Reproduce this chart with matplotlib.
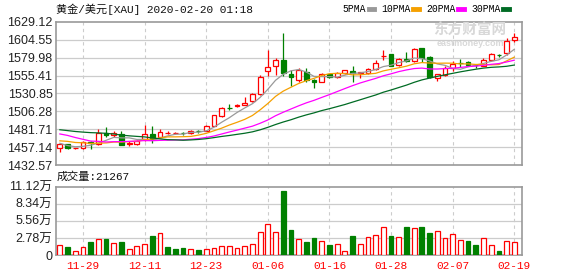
import numpy as np
import pandas as pd
import matplotlib
matplotlib.use("Agg")
import matplotlib.pyplot as plt
from matplotlib.lines import Line2D

# trading days shown on the chart
dates = ["11-26", "11-27", "11-28", "11-29", "12-02", "12-03", "12-04", "12-05", "12-06", "12-09",
         "12-10", "12-11", "12-12", "12-13", "12-16", "12-17", "12-18", "12-19", "12-20", "12-23",
         "12-24", "12-26", "12-27", "12-30", "12-31", "01-02", "01-03", "01-06", "01-07", "01-08",
         "01-09", "01-10", "01-13", "01-14", "01-15", "01-16", "01-17", "01-20", "01-21", "01-22",
         "01-23", "01-24", "01-27", "01-28", "01-29", "01-30", "01-31", "02-03", "02-04", "02-05",
         "02-06", "02-07", "02-10", "02-11", "02-12", "02-13", "02-14", "02-17", "02-18", "02-19"]

opens = [1455.5, 1461.0, 1455.4, 1455.5, 1464.5, 1461.5, 1476.0, 1474.0, 1475.2, 1461.0,
         1461.4, 1467.9, 1475.2, 1470.6, 1476.8, 1476.4, 1476.6, 1476.0, 1479.2, 1479.7,
         1486.0, 1500.3, 1511.2, 1514.2, 1515.5, 1521.0, 1530.2, 1562.3, 1568.6, 1576.9,
         1558.1, 1550.0, 1560.8, 1549.8, 1547.0, 1557.2, 1554.0, 1559.4, 1562.3, 1558.5,
         1559.5, 1564.0, 1582.5, 1584.5, 1569.5, 1578.5, 1575.5, 1593.8, 1580.6, 1552.6,
         1556.3, 1565.5, 1573.3, 1574.0, 1570.3, 1569.0, 1577.3, 1584.0, 1586.0, 1604.0]
highs = [1462.0, 1462.0, 1456.5, 1465.0, 1466.0, 1481.6, 1485.2, 1479.3, 1479.0, 1465.0,
         1467.0, 1487.1, 1486.6, 1482.0, 1479.0, 1478.5, 1478.5, 1481.0, 1480.5, 1487.0,
         1501.5, 1512.7, 1516.4, 1516.0, 1525.6, 1531.9, 1556.0, 1590.6, 1579.2, 1614.4,
         1563.1, 1565.5, 1565.5, 1551.0, 1559.0, 1557.8, 1560.8, 1563.5, 1568.0, 1560.8,
         1566.5, 1576.9, 1590.0, 1585.0, 1580.0, 1588.0, 1593.0, 1594.0, 1582.0, 1558.0,
         1569.0, 1575.5, 1577.9, 1576.0, 1571.4, 1579.2, 1587.0, 1585.5, 1606.7, 1614.0]
lows = [1450.0, 1454.5, 1454.8, 1454.0, 1454.0, 1460.0, 1471.5, 1471.0, 1459.6, 1458.0,
        1460.0, 1466.0, 1462.4, 1469.0, 1475.0, 1475.0, 1474.0, 1475.0, 1476.5, 1479.0,
        1485.5, 1499.0, 1508.0, 1512.5, 1514.5, 1519.0, 1529.0, 1555.0, 1556.3, 1555.3,
        1541.0, 1546.0, 1547.0, 1538.0, 1546.0, 1552.0, 1551.7, 1557.5, 1547.0, 1551.7,
        1558.0, 1563.0, 1577.5, 1568.0, 1568.0, 1574.5, 1574.0, 1574.0, 1551.8, 1548.0,
        1555.0, 1561.8, 1567.7, 1568.0, 1565.5, 1568.0, 1575.0, 1581.7, 1583.8, 1601.2]
closes = [1461.0, 1455.5, 1455.8, 1463.8, 1462.5, 1476.1, 1474.2, 1476.0, 1460.5, 1462.5,
          1465.1, 1475.2, 1467.9, 1477.5, 1477.0, 1476.6, 1476.4, 1479.7, 1478.9, 1486.2,
          1500.9, 1510.8, 1511.0, 1514.8, 1517.4, 1530.0, 1553.9, 1566.8, 1576.9, 1558.6,
          1554.0, 1562.7, 1549.4, 1547.0, 1557.2, 1553.8, 1559.5, 1562.5, 1559.5, 1560.0,
          1564.5, 1572.3, 1583.0, 1569.0, 1577.9, 1576.0, 1592.0, 1579.2, 1553.1, 1557.2,
          1566.3, 1571.0, 1573.0, 1570.0, 1569.8, 1576.9, 1585.5, 1583.6, 1603.0, 1609.0]
volumes = [15700, 12500, 6500, 12500, 21100, 25500, 26000, 19000, 21100, 9200,
           14100, 17900, 30900, 35200, 13000, 9800, 11400, 9200, 8100, 9200,
           10800, 15200, 14100, 10800, 15200, 17300, 36900, 49900, 36900, 104100,
           40700, 25500, 21100, 27600, 22200, 16300, 17300, 6000, 30900, 17300,
           28700, 32000, 45000, 30900, 28700, 45500, 43400, 45500, 35800, 38500,
           27100, 33600, 23800, 22800, 16300, 27100, 15700, 6500, 22200, 21267]

# closes before the window (needed so the moving averages start at the left edge)
prior_closes = [1490, 1492, 1490, 1484, 1487, 1492, 1504, 1505, 1493, 1488,
                1496, 1513, 1514, 1510, 1484, 1492, 1467, 1459, 1456, 1456,
                1463, 1471, 1468, 1472, 1472, 1471, 1464, 1461, 1455]

ma_periods = [5, 10, 20, 30]
ma_colors = ["#999999", "#f5a000", "#ff00ff", "#006b24"]

price_tick_labels = ["1432.57", "1457.14", "1481.71", "1506.28", "1530.85",
                     "1555.41", "1579.98", "1604.55", "1629.12"]
vol_ticks = [0, 27800, 55600, 83400, 111200]
vol_tick_labels = ["0", "2.78万", "5.56万", "8.34万", "11.12万"]

RED = "#ff0000"
GREEN = "#008000"
GRID = "#cccccc"
FRAME = "#999999"
TXT = "#222222"

CJK_MONO = ["Liberation Mono", "Noto Sans CJK SC"]
CJK_SANS = ["Liberation Sans", "Noto Sans CJK SC"]

df = pd.DataFrame({"date": dates, "open": opens, "high": highs, "low": lows,
                   "close": closes, "volume": volumes})
x = np.arange(len(df))

all_close = pd.Series(prior_closes + closes)
for p in ma_periods:
    df[f"ma{p}"] = all_close.rolling(p).mean().iloc[len(prior_closes):].values

up = df["close"] >= df["open"]
prev_close = all_close.shift(1).iloc[len(prior_closes):].values
vol_up = df["close"].values >= prev_close

fig = plt.figure(figsize=(5.78, 2.76), dpi=100)
ax = fig.add_axes([56 / 578, 1 - 165 / 276, 466 / 578, 143 / 276])
axv = fig.add_axes([56 / 578, 1 - 255 / 276, 466 / 578, 68.3 / 276])

tick_idx = list(range(3, len(df), 8))

for a in (ax, axv):
    a.set_xlim(-0.5, 60.0)
    for s in a.spines.values():
        s.set_color(FRAME)
        s.set_linewidth(1.2)
    a.tick_params(length=0, colors=TXT, labelsize=9)
    for t in tick_idx:
        a.axvline(t, color=GRID, linestyle=(0, (3, 3)), linewidth=0.8, zorder=0)

# price panel
price_ticks = [float(s) for s in price_tick_labels]
ax.set_ylim(price_ticks[0], price_ticks[-1])
ax.set_yticks(price_ticks)
ax.set_yticklabels(price_tick_labels, family="Liberation Sans")
for v in price_ticks[1:-1]:
    ax.axhline(v, color=GRID, linewidth=0.9, zorder=0)
ax.set_xticks([])
ax.tick_params(axis="y", pad=2.5)

w = 0.62
ax.vlines(x, df["low"], df["high"], colors=np.where(up, RED, GREEN), linewidth=0.9, zorder=2)
body = (df["close"] - df["open"]).values
body = np.where(np.abs(body) < 0.25, np.sign(body + 1e-9) * 0.25, body)
ax.bar(x[up], body[up], bottom=df["open"][up], width=w, facecolor="white",
       edgecolor=RED, linewidth=0.9, zorder=3)
ax.bar(x[~up], body[~up], bottom=df["open"][~up], width=w, facecolor=GREEN,
       edgecolor=GREEN, linewidth=0.9, zorder=3)

for p, c in zip(ma_periods, ma_colors):
    ax.plot(x, df[f"ma{p}"], color=c, linewidth=0.9, zorder=4)

handles = [Line2D([], [], color=c, linewidth=3.5) for c in ma_colors]
fig.legend(handles, [f"{p}PMA" for p in ma_periods], loc="center right",
           bbox_to_anchor=(514 / 578, 1 - 9 / 276), ncol=4, frameon=False,
           markerfirst=False, handlelength=0.6, handletextpad=0.3, columnspacing=0.7,
           borderpad=0.0, prop={"family": "Liberation Mono", "size": 7})

fig.text(56 / 578, 1 - 9 / 276, "黄金/美元[XAU] 2020-02-20 01:18", family=CJK_MONO,
         fontsize=8, va="center", ha="left", color="#111111")

# watermark
fig.text(470 / 578, 1 - 31 / 276, "东方财富网", family=CJK_SANS, fontsize=10.5,
         fontweight="bold", color="#d8d8d8", ha="center", va="center", zorder=1)
fig.text(470 / 578, 1 - 43 / 276, "eastmoney.com", family="Liberation Sans", fontsize=6.5,
         fontweight="bold", color="#d8d8d8", ha="center", va="center", zorder=1)

# volume panel
axv.set_ylim(0, 111200)
axv.set_yticks(vol_ticks)
axv.set_yticklabels(vol_tick_labels, family=CJK_SANS)
for v in vol_ticks[1:-1]:
    axv.axhline(v, color=GRID, linewidth=0.9, zorder=0)
axv.tick_params(axis="y", pad=2.5)
axv.bar(x[vol_up], df["volume"][vol_up], width=w, facecolor="white", edgecolor=RED,
        linewidth=0.9, zorder=3)
axv.bar(x[~vol_up], df["volume"][~vol_up], width=w, facecolor=GREEN, edgecolor=GREEN,
        linewidth=0.9, zorder=3)
axv.set_xticks(tick_idx)
axv.set_xticklabels([dates[i] for i in tick_idx], family="Liberation Mono", fontsize=8,
                    color=RED)
axv.tick_params(axis="x", pad=4)

fig.text(57 / 578, 1 - 177 / 276, f"成交量:{volumes[-1]}", family=CJK_MONO, fontsize=8,
         va="center", ha="left", color="#111111")

fig.savefig("out.png", dpi=100)
